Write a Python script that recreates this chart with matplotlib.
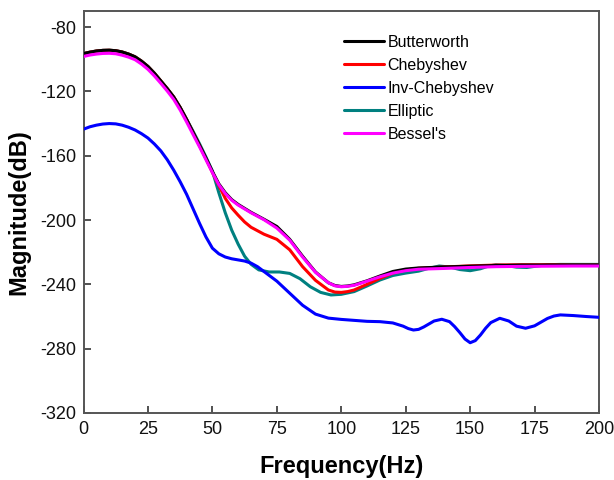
import matplotlib
matplotlib.use("Agg")
import matplotlib.pyplot as plt

plt.rcParams['font.family'] = ['Liberation Sans', 'DejaVu Sans']
plt.rcParams['axes.unicode_minus'] = False

# Butterworth
x_butter = [0, 2.5, 5, 7.5, 10, 12.5, 15, 17.5, 20, 22.5, 25, 27.5, 30, 32.5, 35, 37.5, 40, 42.5,
            45, 47.5, 50, 52.5, 55, 57.5, 60, 65, 70, 75, 80, 85, 90, 95, 97.5,
            100, 102.5, 105, 110, 115, 120, 125, 130, 140, 150, 160, 170, 180, 190, 200]
y_butter = [-96.5, -95.6, -94.9, -94.5, -94.4, -94.7, -95.5, -96.8, -98.5, -101.2, -104.5,
            -108.7, -113.5, -118.3, -123.5, -130, -137.5, -145.5, -153.5, -161.5, -169.8,
            -177.5, -183, -187.3, -190.3, -195.2, -199.5, -204, -212, -222.5, -232.3, -239,
            -240.7, -241.3, -241, -240.3, -237.8, -234.8, -232, -230.5, -229.8, -229.2,
            -228.7, -228.3, -228, -228, -228, -228]

# Chebyshev
x_cheb = [0, 2.5, 5, 7.5, 10, 12.5, 15, 17.5, 20, 22.5, 25, 27.5, 30, 32.5, 35, 37.5, 40, 42.5,
          45, 47.5, 50, 52.5, 55, 57.5, 60, 62.5, 65, 70, 75, 80, 85, 90, 95, 97.5,
          100, 102.5, 105, 110, 115, 120, 125, 130, 140, 150, 160, 170, 180, 190, 200]
y_cheb = [-96.5, -95.6, -94.9, -94.5, -94.4, -94.7, -95.5, -96.8, -98.5, -101.2, -104.5,
          -108.7, -113.5, -118.3, -123.5, -130, -137.5, -145.5, -153.5, -161.8, -170.3,
          -178.5, -186.5, -192.5, -197, -201.2, -204.5, -208.8, -212, -218.5, -229, -237.5,
          -243.5, -244.8, -245, -244.5, -243.5, -240, -236.3, -233, -231, -230, -229.2,
          -228.5, -228, -227.8, -227.8, -228, -228]

# Inv-Chebyshev
x_inv = [0, 2.5, 5, 7.5, 10, 12.5, 15, 17.5, 20, 22.5, 25, 27.5, 30, 32.5, 35, 37.5, 40, 42.5,
         45, 47.5, 50, 52.5, 55, 57.5, 60, 62.5, 65, 67.5, 70, 75, 80, 85, 90, 95, 100, 105,
         110, 115, 120, 124, 126, 128, 130, 132, 136, 139, 142, 144, 146, 148, 150, 152, 154,
         156, 158, 161.5, 165, 168, 171.5, 175, 180, 182.5, 185, 190, 195, 200]
y_inv = [-143.5, -142, -141, -140.3, -140, -140.2, -141, -142.3, -144, -146.3, -149, -152.7,
         -157, -162.5, -169, -176.2, -184, -193, -202, -210.5, -217.5, -221, -223, -224.1,
         -224.8, -225.5, -226.8, -229, -232, -238, -245.5, -253, -258.5, -261, -261.8,
         -262.4, -263, -263.2, -264, -266, -267.5, -268.4, -268, -266.5, -262.8, -261.7,
         -263.2, -266.3, -270, -274, -276.3, -275, -271.5, -267.3, -263.8, -261.1, -262.8,
         -266, -267.3, -265.8, -261.2, -259.7, -259, -259.4, -260, -260.5]

# Elliptic
x_ell = [0, 2.5, 5, 7.5, 10, 12.5, 15, 17.5, 20, 22.5, 25, 27.5, 30, 32.5, 35, 37.5, 40, 42.5,
         45, 47.5, 50, 52.5, 55, 57.5, 60, 62.5, 65, 68, 72, 76, 80, 84, 88, 92, 96, 100,
         105, 110, 115, 120, 125, 130, 134, 138, 142, 146, 150, 154, 157, 160, 164, 168, 172,
         176, 180, 185, 200]
y_ell = [-96.5, -95.6, -94.9, -94.5, -94.4, -94.7, -95.5, -96.8, -98.5, -101.2, -104.5,
         -108.7, -113.5, -118.3, -123.5, -130, -137.3, -144.8, -152.5, -160.8, -169.5, -183,
         -195.5, -206.3, -215, -222.5, -227.5, -231, -232.3, -232.3, -233.2, -236.5, -241.5,
         -245, -246.6, -246.2, -244.5, -241, -237.3, -234.5, -233, -231.8, -230, -228.6,
         -229.2, -230.8, -231.5, -230.3, -228.7, -227.8, -228.3, -229.3, -229.5, -228.6,
         -227.8, -227.6, -227.6]

# Bessel's
x_bes = [0, 2.5, 5, 7.5, 10, 12.5, 15, 17.5, 20, 22.5, 25, 27.5, 30, 32.5, 35, 37.5, 40, 42.5,
         45, 47.5, 50, 52.5, 55, 57.5, 60, 65, 70, 75, 80, 85, 90, 95, 97.5,
         100, 102.5, 105, 110, 115, 120, 125, 130, 140, 150, 160, 170, 180, 190, 200]
y_bes = [-98.3, -97.4, -96.8, -96.4, -96.3, -96.6, -97.5, -98.7, -100.3, -103, -106.3,
         -110.4, -115, -119.8, -125, -131.6, -139, -146.8, -154.5, -162.5, -170.5, -178,
         -183.5, -187.7, -190.7, -195.5, -199.8, -205, -212.5, -223, -232.5, -239, -240.9,
         -241.5, -241.2, -240.6, -238, -235.3, -233, -231.5, -230.6, -230.1, -229.5, -229,
         -228.8, -228.7, -228.6, -228.6]

series = [
    ("Butterworth", x_butter, y_butter, "#000000", 3),
    ("Chebyshev", x_cheb, y_cheb, "#FF0000", 2),
    ("Inv-Chebyshev", x_inv, y_inv, "#0000FF", 4),
    ("Elliptic", x_ell, y_ell, "#008080", 1),
    ("Bessel's", x_bes, y_bes, "#FF00FF", 5),
]

x_ticks = [0, 25, 50, 75, 100, 125, 150, 175, 200]
y_ticks = [-320, -280, -240, -200, -160, -120, -80]

fig = plt.figure(figsize=(6.14, 4.80), dpi=100)
ax = fig.add_axes([0.136, 0.1396, 0.8396, 0.8375])

for name, xs, ys, c, z in series:
    ax.plot(xs, ys, color=c, lw=2.2, label=name, zorder=z,
            solid_joinstyle='round', solid_capstyle='round')

ax.set_xlim(0, 200)
ax.set_ylim(-320, -70)
ax.set_xticks(x_ticks)
ax.set_yticks(y_ticks)
ax.tick_params(direction='in', length=5, width=1.2, labelsize=13, labelcolor='#111111',
               color='#333333', top=False, right=False)
ax.tick_params(axis='x', pad=6)
ax.tick_params(axis='y', pad=5)
for s in ax.spines.values():
    s.set_color('#555555')
    s.set_linewidth(1.4)

ax.set_xlabel("Frequency(Hz)", fontsize=17, fontweight='bold', labelpad=12)
ax.set_ylabel("Magnitude(dB)", fontsize=17, fontweight='bold', labelpad=7)

handles, labels = ax.get_legend_handles_labels()
leg = ax.legend(handles, labels, loc='upper left', bbox_to_anchor=(0.487, 0.965),
                frameon=False, fontsize=11.5, handlelength=2.5, handletextpad=0.2,
                labelspacing=0.5, borderaxespad=0.2)

fig.savefig("out.png", dpi=100)
